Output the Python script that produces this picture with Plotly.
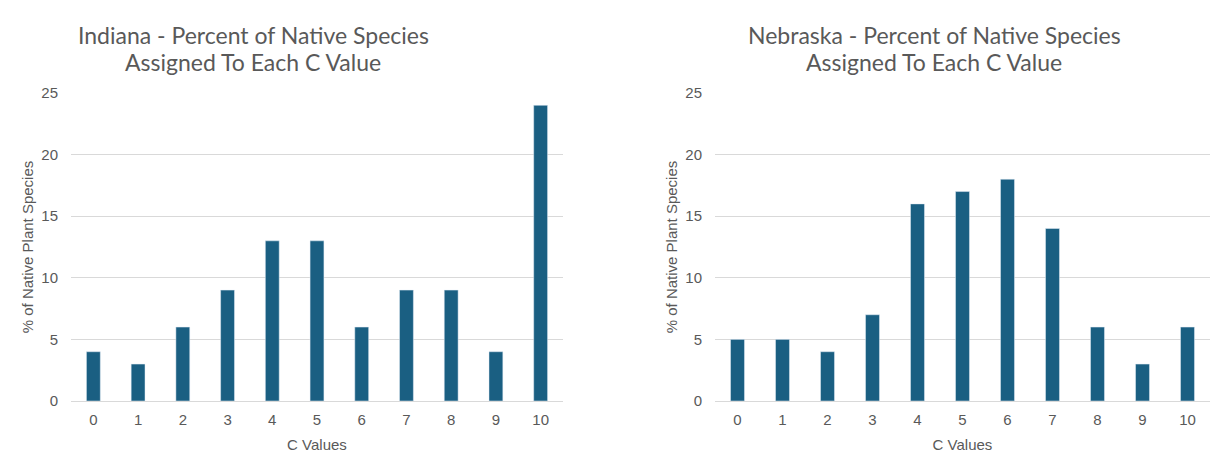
import plotly.graph_objects as go
from plotly.subplots import make_subplots

# C values on the x axis, shared by both charts
c_values = ["0", "1", "2", "3", "4", "5", "6", "7", "8", "9", "10"]

# Percent of native plant species per C value
indiana_pct = [4, 3, 6, 9, 13, 13, 6, 9, 9, 4, 24]
nebraska_pct = [5, 5, 4, 7, 16, 17, 18, 14, 6, 3, 6]

# Two-line titles, one list per chart
indiana_title = ["Indiana - Percent of Native Species", "Assigned To Each C Value"]
nebraska_title = ["Nebraska - Percent of Native Species", "Assigned To Each C Value"]

bar_color = "#1a5f82"
text_color = "#595959"
grid_color = "#d9d9d9"

# The page has an 8px body margin, so the figure is 8px smaller than the window
W, H = 1220, 458
OFF = 8

def px_x(x):
    return (x - OFF) / W

def px_y(y):
    return 1 - (y - OFF) / H

fig = make_subplots(rows=1, cols=2)

fig.add_trace(go.Bar(x=c_values, y=indiana_pct, marker_color=bar_color), row=1, col=1)
fig.add_trace(go.Bar(x=c_values, y=nebraska_pct, marker_color=bar_color), row=1, col=2)

# Axes: same style on both sides
axis_font = dict(family="Liberation Sans, Arial", size=15, color=text_color)
title_font = dict(family="Liberation Sans, Arial", size=15, color=text_color)
for col in (1, 2):
    fig.update_xaxes(
        title=dict(text="C Values", font=title_font, standoff=12),
        tickfont=axis_font,
        showgrid=False,
        showline=False,
        ticks="",
        ticklabelstandoff=8,
        automargin=False,
        row=1, col=col,
    )
    fig.update_yaxes(
        title=dict(text="% of Native Plant Species", font=title_font, standoff=4),
        tickfont=axis_font,
        range=[0, 25],
        dtick=5,
        showgrid=True,
        gridcolor=grid_color,
        zeroline=True,
        zerolinecolor=grid_color,
        zerolinewidth=1,
        ticklabelstandoff=12,
        automargin=False,
        row=1, col=col,
    )

# Put the plot areas where the reference has them
fig.update_layout(
    xaxis=dict(domain=[px_x(71), px_x(563)]),
    xaxis2=dict(domain=[px_x(715), px_x(1210)]),
    yaxis=dict(domain=[px_y(401), px_y(93)]),
    yaxis2=dict(domain=[px_y(401), px_y(93)]),
)

# Chart titles, each line placed on its own
for x_center, lines in [(253, indiana_title), (934, nebraska_title)]:
    for y_center, line in zip([35, 62], lines):
        fig.add_annotation(
            text=line, xref="paper", yref="paper",
            x=px_x(x_center), y=px_y(y_center),
            xanchor="center", yanchor="middle",
            showarrow=False,
            font=dict(family="Lato, Noto Sans", size=23, color=text_color),
        )

fig.update_layout(
    width=W,
    height=H,
    margin=dict(l=0, r=0, t=0, b=0),
    bargap=0.69,
    showlegend=False,
    plot_bgcolor="white",
    paper_bgcolor="white",
)

fig.write_html("out.html")
